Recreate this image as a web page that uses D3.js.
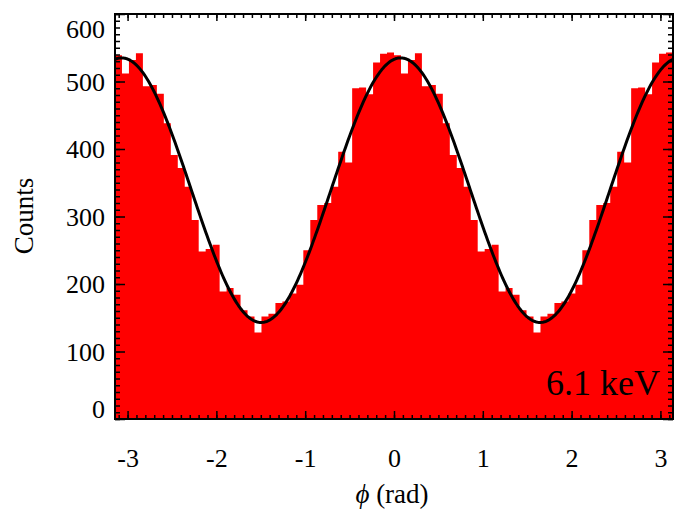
<!DOCTYPE html>
<html>
<head>
<meta charset="utf-8">
<script src="https://cdn.jsdelivr.net/npm/d3@7/dist/d3.min.js"></script>
<style>
  html, body { margin: 0; padding: 0; background: #fff; }
  svg { display: block; }
  text { font-family: "Liberation Serif", "Times New Roman", serif; fill: #000; }
</style>
</head>
<body>
<svg id="chart" width="674" height="516"></svg>
<script>
// Azimuthal angle histogram, 80 bins over [-pi, pi]
const phiMin = -Math.PI;
const phiMax = Math.PI;
const counts = [
  539, 512, 532, 542, 493, 495, 482, 438, 391, 372,
  344, 295, 248, 252, 258, 189, 194, 184, 161, 152,
  128, 152, 156, 172, 174, 186, 199, 250, 295, 317,
  320, 344, 396, 380, 490, 491, 481, 528, 541, 543,
  539, 512, 532, 542, 493, 495, 482, 438, 391, 372,
  344, 295, 248, 252, 258, 189, 194, 184, 161, 152,
  128, 152, 156, 172, 174, 186, 199, 250, 295, 317,
  320, 344, 396, 380, 490, 491, 481, 528, 541, 543
];

// Modulation fit: N(phi) = mean + amp * cos(2 (phi - phase))
const fitMean = 339;
const fitAmp = 196;
const fitPhase = 0.075;

const xTicks = [-3, -2, -1, 0, 1, 2, 3];
const yTicks = [0, 100, 200, 300, 400, 500, 600];
const energyLabel = "6.1 keV";

const svg = d3.select("#chart");
const plotLeft = 115, plotRight = 673, plotTop = 14, plotBottom = 419;

const x = d3.scaleLinear().domain([phiMin, phiMax]).range([plotLeft, plotRight]);
const y = d3.scaleLinear().domain([0, 600]).range([plotBottom, plotTop]);

const binW = (phiMax - phiMin) / counts.length;

svg.append("defs").append("clipPath").attr("id", "plotclip")
  .append("rect").attr("x", plotLeft).attr("y", plotTop)
  .attr("width", plotRight - plotLeft).attr("height", plotBottom - plotTop);

const plot = svg.append("g").attr("clip-path", "url(#plotclip)");

// histogram drawn as one filled step outline (no seams between bins)
const steps = counts.map((c, i) => [phiMin + i * binW, c]);
steps.push([phiMax, counts[counts.length - 1]]);
plot.append("path")
  .datum(steps)
  .attr("fill", "#ff0000")
  .attr("stroke", "none")
  .attr("d", d3.area()
    .curve(d3.curveStepAfter)
    .x(d => x(d[0]))
    .y0(y(0))
    .y1(d => y(d[1])));

// fitted curve
const fitPts = d3.range(0, 401).map(k => {
  const p = phiMin + (phiMax - phiMin) * k / 400;
  return [p, fitMean + fitAmp * Math.cos(2 * (p - fitPhase))];
});
plot.append("path")
  .datum(fitPts)
  .attr("fill", "none")
  .attr("stroke", "#000")
  .attr("stroke-width", 3)
  .attr("stroke-linejoin", "round")
  .attr("d", d3.line().x(d => x(d[0])).y(d => y(d[1])));

// ticks
const xMinor = d3.range(-31, 32).map(v => v / 10).filter(v => v >= phiMin && v <= phiMax);
const yMinor = d3.range(0, 601, 10);

function styleAxis(g) {
  g.select(".domain").remove();
  g.selectAll(".tick line").attr("stroke", "#000").attr("stroke-width", 1.5);
}

// bottom
svg.append("g").attr("transform", `translate(0,${plotBottom})`)
  .call(d3.axisBottom(x).tickValues(xMinor).tickSize(-4).tickFormat(""))
  .call(styleAxis);
const xAxisG = svg.append("g").attr("transform", `translate(0,${plotBottom})`)
  .call(d3.axisBottom(x).tickValues(xTicks).tickSize(-8).tickFormat(d3.format("d")))
  .call(styleAxis);
xAxisG.selectAll(".tick text")
  .attr("y", 48).attr("dy", 0)
  .attr("font-size", 26)
  .style("font-family", "'Liberation Serif', 'Times New Roman', serif")
  .text(d => d < 0 ? "-" + Math.abs(d) : d);

// top
svg.append("g").attr("transform", `translate(0,${plotTop})`)
  .call(d3.axisTop(x).tickValues(xMinor).tickSize(-4).tickFormat(""))
  .call(styleAxis);
svg.append("g").attr("transform", `translate(0,${plotTop})`)
  .call(d3.axisTop(x).tickValues(xTicks).tickSize(-7).tickFormat(""))
  .call(styleAxis);

// left
svg.append("g").attr("transform", `translate(${plotLeft},0)`)
  .call(d3.axisLeft(y).tickValues(yMinor).tickSize(-5).tickFormat(""))
  .call(styleAxis);
const yAxisG = svg.append("g").attr("transform", `translate(${plotLeft},0)`)
  .call(d3.axisLeft(y).tickValues(yTicks).tickSize(-10).tickPadding(10).tickFormat(d3.format("d")))
  .call(styleAxis);
yAxisG.selectAll(".tick text")
  .attr("font-size", 26)
  .style("font-family", "'Liberation Serif', 'Times New Roman', serif")
  .attr("dy", d => d === 0 ? "-0.05em" : (d === 600 ? "0.78em" : "0.34em"))
  .attr("y", d => d === 600 ? 3 : 0);

// right
svg.append("g").attr("transform", `translate(${plotRight},0)`)
  .call(d3.axisRight(y).tickValues(yMinor).tickSize(-5).tickFormat(""))
  .call(styleAxis);
svg.append("g").attr("transform", `translate(${plotRight},0)`)
  .call(d3.axisRight(y).tickValues(yTicks).tickSize(-10).tickFormat(""))
  .call(styleAxis);

// frame
svg.append("rect")
  .attr("x", plotLeft).attr("y", plotTop)
  .attr("width", plotRight - plotLeft).attr("height", plotBottom - plotTop)
  .attr("fill", "none").attr("stroke", "#000").attr("stroke-width", 2);

// energy label
svg.append("text")
  .attr("x", 660).attr("y", 395)
  .attr("text-anchor", "end")
  .attr("font-size", 36)
  .text(energyLabel);

// axis titles
const xTitle = svg.append("text")
  .attr("x", 392).attr("y", 503)
  .attr("text-anchor", "middle")
  .attr("font-size", 27);
xTitle.append("tspan").attr("font-style", "italic").text("\u03d5");
xTitle.append("tspan").text(" (rad)");

svg.append("text")
  .attr("transform", "translate(33,216) rotate(-90)")
  .attr("text-anchor", "middle")
  .attr("font-size", 27)
  .text("Counts");
</script>
</body>
</html>
